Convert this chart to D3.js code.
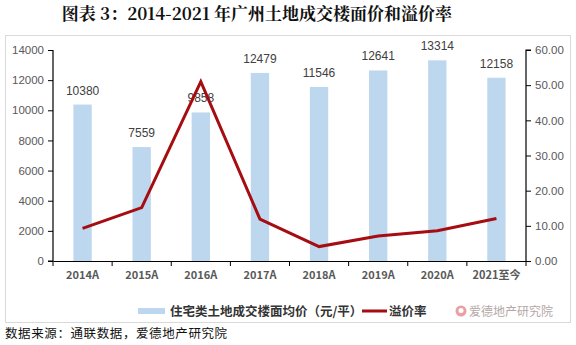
<!DOCTYPE html>
<html><head><meta charset="utf-8">
<script src="https://cdn.jsdelivr.net/npm/d3@7/dist/d3.min.js"></script>
<style>body{margin:0;background:#fff;}svg{display:block;}</style>
</head><body>
<script>
const categories = ["2014A","2015A","2016A","2017A","2018A","2019A","2020A","2021至今"];
const priceValues = [10380,7559,9858,12479,11546,12641,13314,12158];
const premiumValues = [9.3,15.2,51.0,11.9,4.1,7.1,8.6,12.1];
const leftTicks = [0,2000,4000,6000,8000,10000,12000,14000];
const rightTicks = [0,10,20,30,40,50,60];
const title = "图表 3：2014-2021 年广州土地成交楼面价和溢价率";
const seriesNames = ["住宅类土地成交楼面均价（元/平）","溢价率"];
const source = "数据来源：通联数据，爱德地产研究院";
const watermark = "爱德地产研究院";

const W=576,H=345;
const svg=d3.select("body").append("svg").attr("width",W).attr("height",H);
const cjk="'Noto Sans CJK SC','Microsoft YaHei',sans-serif";
const lat="'Liberation Sans','Noto Sans',sans-serif";

svg.append("text").attr("x",257).attr("y",20).attr("text-anchor","middle")
  .attr("font-family","'Noto Serif CJK SC','Noto Sans CJK SC',serif").attr("font-weight","bold")
  .attr("font-size",17).attr("fill","#111").text(title);

// frame
svg.append("rect").attr("x",5.5).attr("y",35.5).attr("width",565).attr("height",287)
  .attr("fill","#fff").attr("stroke","#d9d9d9");

const L=53,R=526,T=50,B=261;
const x=d3.scaleBand().domain(categories).range([L,R]).padding(0);
const yL=d3.scaleLinear().domain([0,14000]).range([B,T]);
const yR=d3.scaleLinear().domain([0,60]).range([B,T]);
const barW=x.bandwidth()*0.31;

svg.append("g").selectAll("rect").data(categories).join("rect")
  .attr("x",d=>x(d)+x.bandwidth()/2-barW/2)
  .attr("y",(d,i)=>yL(priceValues[i]))
  .attr("width",barW).attr("height",(d,i)=>B-yL(priceValues[i]))
  .attr("fill","#bdd7ee");

svg.append("g").selectAll("text").data(categories).join("text")
  .attr("x",d=>x(d)+x.bandwidth()/2)
  .attr("y",(d,i)=>yL(priceValues[i])-10)
  .attr("text-anchor","middle").attr("font-family",lat).attr("font-size",12)
  .attr("fill","#404040").text((d,i)=>priceValues[i]);

// axes
const axL=svg.append("g").attr("transform",`translate(${L},0)`)
  .call(d3.axisLeft(yL).tickValues(leftTicks).tickSize(5).tickPadding(4).tickFormat(d3.format("d")));
const axR=svg.append("g").attr("transform",`translate(${R},0)`)
  .call(d3.axisRight(yR).tickValues(rightTicks).tickSize(5).tickPadding(4).tickFormat(d3.format(".2f")));
const axX=svg.append("g").attr("transform",`translate(0,${B})`)
  .call(d3.axisBottom(x).tickSize(0).tickPadding(10));
// boundary ticks on x axis
svg.append("g").selectAll("line").data(d3.range(categories.length+1)).join("line")
  .attr("x1",i=>L+i*x.step()).attr("x2",i=>L+i*x.step())
  .attr("y1",B).attr("y2",B+5).attr("stroke","#000");
[axL,axR,axX].forEach(a=>{
  a.select(".domain").attr("stroke","#000").attr("stroke-width",1.2);
  a.selectAll(".tick line").attr("stroke","#000");
  a.selectAll("text").attr("fill","#595959").attr("font-family",lat).attr("font-size",11.5);
});
axL.select(".domain").attr("d",`M-5,${B}H0V${T}`);
axR.select(".domain").attr("d",`M5,${T}H0V${B}`);
axX.selectAll("text").attr("font-family",cjk).attr("font-weight","bold").attr("font-size",11);

// line
const line=d3.line().x((d,i)=>x(categories[i])+x.bandwidth()/2).y(d=>yR(d));
svg.append("path").datum(premiumValues).attr("d",line).attr("fill","none")
  .attr("stroke","#a50d12").attr("stroke-width",3).attr("stroke-linejoin","miter");

// legend
const ly=311;
svg.append("rect").attr("x",138).attr("y",ly-3).attr("width",27).attr("height",6).attr("fill","#bdd7ee");
svg.append("text").attr("x",170).attr("y",ly+4.5).attr("font-family",cjk).attr("font-weight","bold")
  .attr("font-size",12.5).attr("fill","#333").text(seriesNames[0]);
svg.append("line").attr("x1",362).attr("x2",387).attr("y1",ly).attr("y2",ly).attr("stroke","#a50d12").attr("stroke-width",3);
svg.append("text").attr("x",389).attr("y",ly+4.5).attr("font-family",cjk).attr("font-weight","bold")
  .attr("font-size",12.5).attr("fill","#333").text(seriesNames[1]);
// watermark
svg.append("circle").attr("cx",461).attr("cy",ly).attr("r",5.5).attr("fill","#e8a0a4");
svg.append("circle").attr("cx",461).attr("cy",ly-0.5).attr("r",2.5).attr("fill","#fff");
svg.append("text").attr("x",469).attr("y",ly+4.5).attr("font-family",cjk)
  .attr("font-size",12).attr("fill","#b5a8a8").text(watermark);

svg.append("text").attr("x",5).attr("y",338).attr("font-family",cjk)
  .attr("font-size",12.5).attr("letter-spacing",0.6).attr("fill","#111").text(source);
</script>
</body></html>
